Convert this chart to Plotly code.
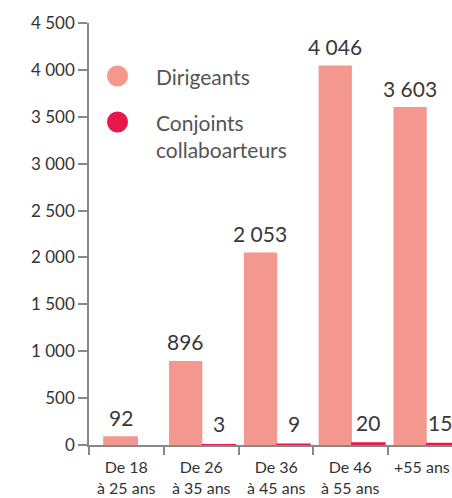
import plotly.graph_objects as go

categories = ["De 18<br>à 25 ans", "De 26<br>à 35 ans", "De 36<br>à 45 ans", "De 46<br>à 55 ans", "+55 ans"]
dirigeants = [92, 896, 2053, 4046, 3603]
conjoints = [None, 3, 9, 20, 15]
y_ticks = [0, 500, 1000, 1500, 2000, 2500, 3000, 3500, 4000, 4500]
y_tick_labels = ["0", "500", "1 000", "1 500", "2 000", "2 500", "3 000", "3 500", "4 000", "4 500"]
series_names = ["Dirigeants", "Conjoints<br>collaboarteurs"]

C_DIR = "#F4978E"
C_CON = "#E8194A"
FONT = "Lato"

def fmt(v):
    return f"{v:,}".replace(",", " ")

xs = list(range(len(categories)))
dir_offset = [-0.31, -0.43, -0.43, -0.43, -0.43]
dir_width = [0.465, 0.445, 0.445, 0.445, 0.445]
con_offset = [0.015] * 5
con_width = [0.44] * 5

fig = go.Figure()
fig.add_trace(go.Bar(x=xs, y=dirigeants, offset=dir_offset, width=dir_width,
                     marker=dict(color=C_DIR, line=dict(width=0)), showlegend=False))
fig.add_trace(go.Bar(x=xs, y=conjoints, offset=con_offset, width=con_width,
                     marker=dict(color=C_CON, line=dict(color=C_CON, width=1.5)), showlegend=False))

annotations = []
label_font = dict(family=FONT, size=21, color="#383838")
for i, v in enumerate(dirigeants):
    annotations.append(dict(x=xs[i] + dir_offset[i] + dir_width[i] / 2, y=v, xref="x", yref="y",
                            text=fmt(v), showarrow=False, yanchor="middle", yshift=19,
                            font=label_font))
for i, v in enumerate(conjoints):
    if v is None:
        continue
    annotations.append(dict(x=xs[i] + con_offset[i] + con_width[i] / 2, y=v, xref="x", yref="y",
                            text=fmt(v), showarrow=False, yanchor="middle", yshift=21,
                            xshift=-3 if i == len(conjoints) - 1 else 0,
                            font=label_font))

# category labels (as annotations so the clipped last one stays visible)
for i, c in enumerate(categories):
    annotations.append(dict(x=xs[i], y=0, xref="x", yref="paper", text=c, showarrow=False,
                            yanchor="top", yshift=-10, align="center",
                            xshift=-4 if i == len(categories) - 1 else 0,
                            font=dict(family=FONT, size=16, color="#333333")))

# legend (drawn manually)
shapes = []
leg_colors = [C_DIR, C_CON]
leg_y = [76, 122]
for col, yy in zip(leg_colors, leg_y):
    shapes.append(dict(type="circle", xref="paper", yref="paper",
                       x0=(107 - 89) / 363, x1=(128 - 89) / 363,
                       y0=1 - (yy + 10.5 - 23) / 422, y1=1 - (yy - 10.5 - 23) / 422,
                       fillcolor=col, line=dict(width=0)))
for name, yy in zip(series_names, leg_y):
    annotations.append(dict(xref="paper", yref="paper", x=(154 - 89) / 363, y=1 - (yy - 23) / 422,
                            text=name, showarrow=False, xanchor="left",
                            yanchor="top" if "<br>" in name else "middle",
                            yshift=14 if "<br>" in name else 0,
                            align="left",
                            font=dict(family=FONT, size=21, color="#555555")))

fig.update_layout(
    width=452, height=498,
    margin=dict(l=89, r=0, t=23, b=53),
    paper_bgcolor="white", plot_bgcolor="white",
    barmode="overlay",
    shapes=shapes,
    annotations=annotations,
    xaxis=dict(range=[-0.5, 4.353], tickvals=xs, showticklabels=False, ticks="",
               showgrid=False, zeroline=False, showline=True, linecolor="#888888", linewidth=1.5,
               minor=dict(tickvals=[-0.5, 0.5, 1.5, 2.5, 3.5, 4.5], ticks="outside", ticklen=8,
                          tickcolor="#888888", tickwidth=1.5, showgrid=False)),
    yaxis=dict(range=[0, 4500], tickvals=y_ticks, ticktext=y_tick_labels, ticks="outside",
               ticklen=9, tickcolor="#888888", tickwidth=1.5,
               showgrid=False, zeroline=False, showline=True, linecolor="#888888", linewidth=1.5,
               tickfont=dict(family=FONT, size=17, color="#333333")),
)

fig.write_html("out.html")
